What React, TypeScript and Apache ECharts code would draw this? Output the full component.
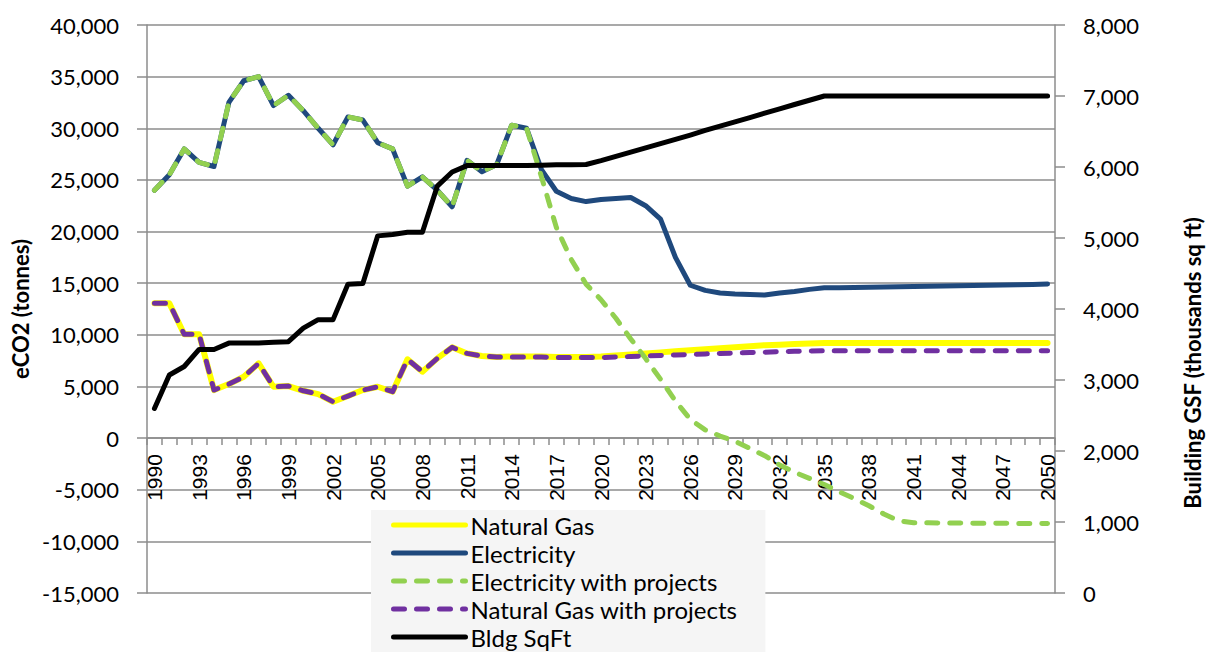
import React, { useEffect, useRef } from "react";
import * as echarts from "echarts";

const years = [
  "1990","1991","1992","1993","1994","1995","1996","1997","1998","1999",
  "2000","2001","2002","2003","2004","2005","2006","2007","2008","2009",
  "2010","2011","2012","2013","2014","2015","2016","2017","2018","2019",
  "2020","2021","2022","2023","2024","2025","2026","2027","2028","2029",
  "2030","2031","2032","2033","2034","2035","2036","2037","2038","2039",
  "2040","2041","2042","2043","2044","2045","2046","2047","2048","2049",
  "2050",
];

const naturalGas = [
  13050, 13050, 10050, 10050, 4650, 5230, 5940, 7240, 4970, 5040,
  4580, 4260, 3520, 4070, 4650, 4970, 4490, 7630, 6430, 7720,
  8790, 8200, 7950, 7850, 7900, 7900, 7900, 7850, 7850, 7850,
  7900, 8000, 8100, 8200, 8300, 8400, 8500, 8600, 8700, 8800,
  8900, 9000, 9050, 9100, 9150, 9200, 9200, 9200, 9200, 9200,
  9200, 9200, 9200, 9200, 9200, 9200, 9200, 9200, 9200, 9200,
  9200,
];

const electricity = [
  24000, 25500, 28000, 26700, 26300, 32500, 34600, 35000, 32200, 33200,
  31700, 30000, 28400, 31100, 30800, 28600, 28000, 24400, 25300, 24000,
  22400, 26900, 25800, 26500, 30300, 30000, 26000, 23900, 23200, 22900,
  23100, 23200, 23300, 22500, 21200, 17500, 14800, 14300, 14050, 13950,
  13900, 13850, 14050, 14200, 14400, 14550, 14550, 14580, 14600, 14620,
  14650, 14680, 14700, 14720, 14750, 14780, 14800, 14830, 14850, 14880,
  14920,
];

const electricityProjects = [
  24000, 25500, 28000, 26700, 26300, 32500, 34600, 35000, 32200, 33200,
  31700, 30000, 28400, 31100, 30800, 28600, 28000, 24400, 25300, 24000,
  22400, 26900, 25800, 26500, 30300, 30000, 25300, 20400, 17300, 14900,
  13400, 11600, 9600, 7700, 5700, 3600, 1800, 800, 200, -300,
  -1000, -1700, -2600, -3300, -3900, -4500, -5200, -5850, -6550, -7350,
  -8000, -8200, -8200, -8220, -8220, -8240, -8240, -8250, -8260, -8260,
  -8270,
];

const naturalGasProjects = [
  13050, 13050, 10050, 10050, 4650, 5230, 5940, 7240, 4970, 5040,
  4580, 4260, 3520, 4070, 4650, 4970, 4490, 7630, 6430, 7720,
  8790, 8200, 7950, 7850, 7850, 7850, 7850, 7800, 7800, 7800,
  7800, 7850, 7900, 7950, 8000, 8050, 8100, 8150, 8200, 8230,
  8280, 8320, 8370, 8400, 8430, 8450, 8450, 8450, 8450, 8450,
  8450, 8450, 8450, 8450, 8450, 8450, 8450, 8450, 8450, 8450,
  8450,
];

const bldgSqFt = [
  2600, 3070, 3190, 3430, 3430, 3520, 3520, 3520, 3530, 3540,
  3730, 3850, 3850, 4350, 4360, 5030, 5050, 5080, 5080, 5730,
  5930, 6020, 6020, 6020, 6020, 6020, 6025, 6030, 6030, 6035,
  6090, 6150, 6210, 6270, 6330, 6390, 6450, 6515, 6575, 6635,
  6695, 6760, 6820, 6880, 6940, 7000, 7000, 7000, 7000, 7000,
  7000, 7000, 7000, 7000, 7000, 7000, 7000, 7000, 7000, 7000,
  7000,
];

const leftTitle = "eCO2 (tonnes)";
const rightTitle = "Building GSF (thousands sq ft)";

const GRID = "#8c8c8c";
const LABEL_FONT = "Lato";

const fmt = (v: number) => v.toLocaleString("en-US");

// plot geometry
const TOP = 25;
const BOTTOM = 59;
const PLOT_H = 652 - TOP - BOTTOM;
const Y_MIN = -15000;
const Y_MAX = 40000;
const ZERO_OFFSET = -(PLOT_H * (0 - Y_MIN)) / (Y_MAX - Y_MIN);

export default function App() {
  const ref = useRef<HTMLDivElement>(null);

  useEffect(() => {
    if (!ref.current) return;
    const chart = echarts.init(ref.current, null, { renderer: "svg" });
    chart.setOption({
      animation: false,
      backgroundColor: "#ffffff",
      grid: {
        left: 147,
        right: 161,
        top: TOP,
        bottom: BOTTOM,
        containLabel: false,
        outerBoundsMode: "none",
      },
      legend: {
        orient: "vertical",
        left: 371,
        top: 510,
        height: 200,
        padding: [3, 28, 4, 20],
        itemGap: 4,
        itemWidth: 72,
        itemHeight: 20,
        backgroundColor: "#f5f5f5",
        itemStyle: { color: "rgba(0,0,0,0)", borderColor: "rgba(0,0,0,0)", borderWidth: 0 },
        lineStyle: { width: 5, cap: "round" },
        textStyle: { fontFamily: LABEL_FONT, fontSize: 24, color: "#000" },
        data: [
          "Natural Gas",
          "Electricity",
          "Electricity with projects",
          "Natural Gas with projects",
          "Bldg SqFt",
        ],
      },
      xAxis: {
        type: "category",
        data: years,
        boundaryGap: true,
        offset: ZERO_OFFSET,
        axisLine: { onZero: false, lineStyle: { color: GRID, width: 1.5 } },
        axisTick: { show: true, interval: 0, length: 7, lineStyle: { color: GRID, width: 1.5 } },
        axisLabel: {
          interval: 2,
          rotate: 90,
          margin: 16,
          fontFamily: "Liberation Sans",
          fontSize: 21,
          color: "#000",
        },
        splitLine: { show: false },
      },
      yAxis: [
        {
          type: "value",
          min: Y_MIN,
          max: Y_MAX,
          interval: 5000,
          position: "left",
          name: leftTitle,
          nameLocation: "middle",
          nameGap: 108,
          nameTextStyle: { fontFamily: LABEL_FONT, fontWeight: "bold", fontSize: 22, color: "#000" },
          axisLine: { show: true, lineStyle: { color: GRID, width: 1.5 } },
          axisTick: { show: true, length: 10, lineStyle: { color: GRID, width: 1.5 } },
          axisLabel: { formatter: fmt, margin: 28, fontFamily: LABEL_FONT, fontSize: 22, color: "#000" },
          splitLine: { show: true, lineStyle: { color: GRID, width: 1.5 } },
        },
        {
          type: "value",
          min: 0,
          max: 8000,
          interval: 1000,
          position: "right",
          axisLine: { show: true, lineStyle: { color: GRID, width: 1.5 } },
          axisTick: { show: true, length: 10, lineStyle: { color: GRID, width: 1.5 } },
          axisLabel: { formatter: fmt, margin: 28, fontFamily: LABEL_FONT, fontSize: 22, color: "#000" },
          splitLine: { show: false },
        },
      ],
      graphic: [
        {
          type: "text",
          x: 1192,
          y: 363,
          rotation: Math.PI / 2,
          style: {
            text: rightTitle,
            fontFamily: LABEL_FONT,
            fontWeight: "bold",
            fontSize: 22,
            fill: "#000",
            textAlign: "center",
            textVerticalAlign: "middle",
          },
        },
      ],
      series: [
        {
          name: "Natural Gas",
          type: "line",
          data: naturalGas,
          symbol: "none",
          lineStyle: { color: "#FFFF00", width: 6, cap: "round", join: "round" },
          itemStyle: { color: "#FFFF00" },
        },
        {
          name: "Electricity",
          type: "line",
          data: electricity,
          symbol: "none",
          lineStyle: { color: "#1F497D", width: 5, cap: "round", join: "round" },
          itemStyle: { color: "#1F497D" },
        },
        {
          name: "Electricity with projects",
          type: "line",
          data: electricityProjects,
          symbol: "none",
          lineStyle: { color: "#92D050", width: 5, type: [11, 12], cap: "round", join: "round" },
          itemStyle: { color: "#92D050" },
        },
        {
          name: "Natural Gas with projects",
          type: "line",
          data: naturalGasProjects,
          symbol: "none",
          lineStyle: { color: "#7030A0", width: 5, type: [11, 12], cap: "round", join: "round" },
          itemStyle: { color: "#7030A0" },
        },
        {
          name: "Bldg SqFt",
          type: "line",
          yAxisIndex: 1,
          data: bldgSqFt,
          symbol: "none",
          lineStyle: { color: "#000000", width: 5, cap: "round", join: "round" },
          itemStyle: { color: "#000000" },
        },
      ],
    });
    return () => chart.dispose();
  }, []);

  return (
    <div
      ref={ref}
      style={{ position: "fixed", left: 0, top: 0, width: 1216, height: 652, background: "#fff" }}
    />
  );
}
